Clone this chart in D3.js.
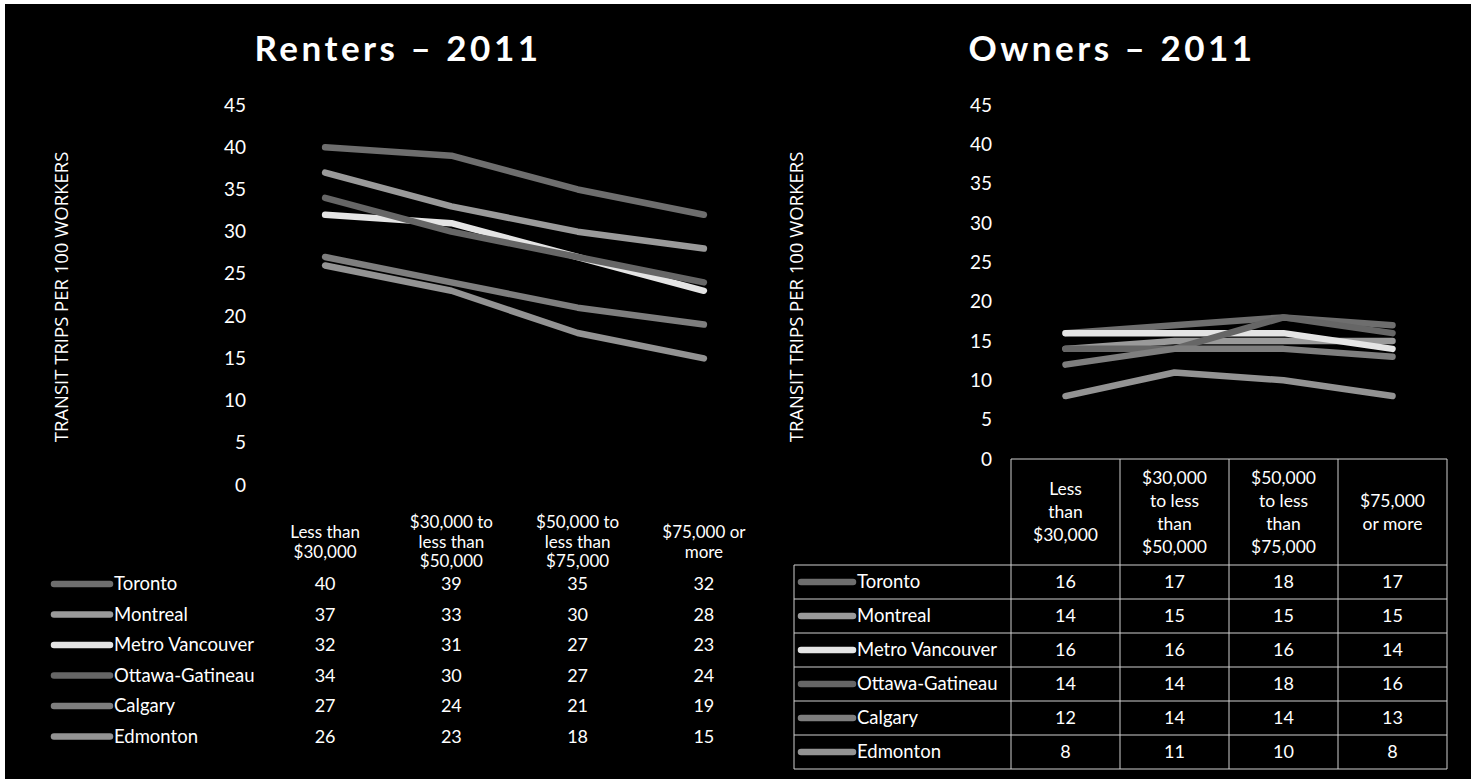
<!DOCTYPE html>
<html>
<head>
<meta charset="utf-8">
<script src="https://cdn.jsdelivr.net/npm/d3@7"></script>
<style>
  html, body { margin: 0; padding: 0; background: #fff; }
  svg { display: block; }
  text { font-family: Lato, "Open Sans", sans-serif; fill: #fff; }
</style>
</head>
<body>
<script>
// ---------- DATA ----------
const cities = ["Toronto", "Montreal", "Metro Vancouver", "Ottawa-Gatineau", "Calgary", "Edmonton"];
const cityColors = ["#6e6e6e", "#9a9a9a", "#e4e4e4", "#666666", "#7e7e7e", "#939393"];
const incomeCategories = ["Less than $30,000", "$30,000 to less than $50,000", "$50,000 to less than $75,000", "$75,000 or more"];
const rentersLabelLines = [["Less than", "$30,000"], ["$30,000 to", "less than", "$50,000"], ["$50,000 to", "less than", "$75,000"], ["$75,000 or", "more"]];
const ownersLabelLines = [["Less", "than", "$30,000"], ["$30,000", "to less", "than", "$50,000"], ["$50,000", "to less", "than", "$75,000"], ["$75,000", "or more"]];
const renters2011 = [
  [40, 39, 35, 32],
  [37, 33, 30, 28],
  [32, 31, 27, 23],
  [34, 30, 27, 24],
  [27, 24, 21, 19],
  [26, 23, 18, 15]
];
const owners2011 = [
  [16, 17, 18, 17],
  [14, 15, 15, 15],
  [16, 16, 16, 14],
  [14, 14, 18, 16],
  [12, 14, 14, 13],
  [8, 11, 10, 8]
];
const yTicks = [0, 5, 10, 15, 20, 25, 30, 35, 40, 45];
const yAxisTitle = "TRANSIT TRIPS PER 100 WORKERS";

// ---------- DRAW ----------
const W = 1476, H = 783;
const svg = d3.select("body").append("svg").attr("width", W).attr("height", H);
svg.append("rect").attr("x", 0).attr("y", 0).attr("width", W).attr("height", H).attr("fill", "#fff");
svg.append("rect").attr("x", 5).attr("y", 4).attr("width", 1466).attr("height", 775).attr("fill", "#000");

function panel(cfg) {
  const g = svg.append("g");
  const x = d3.scaleBand().domain(incomeCategories).range(cfg.xRange).padding(0);
  const y = d3.scaleLinear().domain([0, 45]).range(cfg.yRange);

  // title
  g.append("text").attr("x", cfg.titleX).attr("y", 61).attr("text-anchor", "middle")
    .style("font-size", "35px").style("font-weight", "bold").style("letter-spacing", "3.5px")
    .text(cfg.title);

  // y-axis title
  g.append("text").attr("transform", `translate(${cfg.yTitleX},297) rotate(-90)`)
    .attr("text-anchor", "middle").attr("dy", "0.35em")
    .style("font-family", "'Open Sans', sans-serif").style("font-size", "18.5px")
    .text(yAxisTitle);

  // y axis (labels only)
  const axis = d3.axisLeft(y).tickValues(yTicks).tickSize(0).tickPadding(0);
  const ag = g.append("g").attr("transform", `translate(${cfg.tickX},0)`).call(axis);
  ag.select(".domain").remove();
  ag.selectAll("text").attr("fill", "#fff").style("fill", "#fff")
    .style("font-family", "Lato, sans-serif").style("font-size", "19px");

  // lines
  const line = d3.line().x((d, i) => x(incomeCategories[i]) + x.bandwidth() / 2).y(d => y(d));
  cfg.data.forEach((vals, k) => {
    g.append("path").datum(vals).attr("d", line).attr("fill", "none")
      .attr("stroke", cityColors[k]).attr("stroke-width", 6.5)
      .attr("stroke-linecap", "round").attr("stroke-linejoin", "round");
  });

  // category labels
  incomeCategories.forEach((c, i) => {
    const lines = cfg.labelLines[i];
    const cx = x(c) + x.bandwidth() / 2;
    const t = g.append("text").attr("text-anchor", "middle").style("font-size", cfg.labelSize);
    const top = cfg.labelCenterY - (lines.length - 1) * cfg.labelLH / 2;
    lines.forEach((ln, j) => {
      t.append("tspan").attr("x", cx).attr("y", top + j * cfg.labelLH).attr("dy", "0.35em").text(ln);
    });
  });

  // table grid (owners only)
  if (cfg.grid) {
    const gc = "#cfcfcf";
    const xs = [cfg.xRange[0]].concat(incomeCategories.map(c => x(c) + x.bandwidth()));
    const rowY = d3.range(cities.length + 1).map(i => cfg.rowTop + i * cfg.rowH);
    xs.forEach(xx => g.append("line").attr("x1", xx).attr("x2", xx).attr("y1", cfg.yRange[0]).attr("y2", rowY[rowY.length - 1]).attr("stroke", gc));
    g.append("line").attr("x1", cfg.xRange[0]).attr("x2", cfg.xRange[1]).attr("y1", cfg.yRange[0]).attr("y2", cfg.yRange[0]).attr("stroke", gc);
    g.append("line").attr("x1", cfg.legendLeft).attr("x2", cfg.legendLeft).attr("y1", rowY[0]).attr("y2", rowY[rowY.length - 1]).attr("stroke", gc);
    rowY.forEach(yy => g.append("line").attr("x1", cfg.legendLeft).attr("x2", cfg.xRange[1]).attr("y1", yy).attr("y2", yy).attr("stroke", gc));
  }

  // legend rows + values
  cities.forEach((city, k) => {
    const cy = cfg.rowTop + cfg.rowH * k + cfg.rowH / 2;
    g.append("line").attr("x1", cfg.keyX[0]).attr("x2", cfg.keyX[1]).attr("y1", cy).attr("y2", cy)
      .attr("stroke", cityColors[k]).attr("stroke-width", 6.5).attr("stroke-linecap", "round");
    g.append("text").attr("x", cfg.keyX[1] + 4).attr("y", cy).attr("dy", "0.35em")
      .style("font-size", "18.5px").text(city);
    cfg.data[k].forEach((v, i) => {
      g.append("text").attr("x", x(incomeCategories[i]) + x.bandwidth() / 2).attr("y", cy).attr("dy", "0.35em")
        .attr("text-anchor", "middle").style("font-size", "18px").text(v);
    });
  });
}

panel({
  title: "Renters \u2013 2011", titleX: 398, yTitleX: 62,
  xRange: [262, 767], yRange: [485, 105], tickX: 246,
  data: renters2011, labelLines: rentersLabelLines, labelCenterY: 542, labelLH: 19.5, labelSize: "17px",
  rowTop: 568.75, rowH: 30.5, keyX: [54, 110], grid: false
});

panel({
  title: "Owners \u2013 2011", titleX: 1112, yTitleX: 797,
  xRange: [1011, 1447], yRange: [459, 105], tickX: 992,
  data: owners2011, labelLines: ownersLabelLines, labelCenterY: 512, labelLH: 23, labelSize: "17.5px",
  rowTop: 565, rowH: 34, keyX: [801, 853], grid: true, legendLeft: 794
});
</script>
</body>
</html>
